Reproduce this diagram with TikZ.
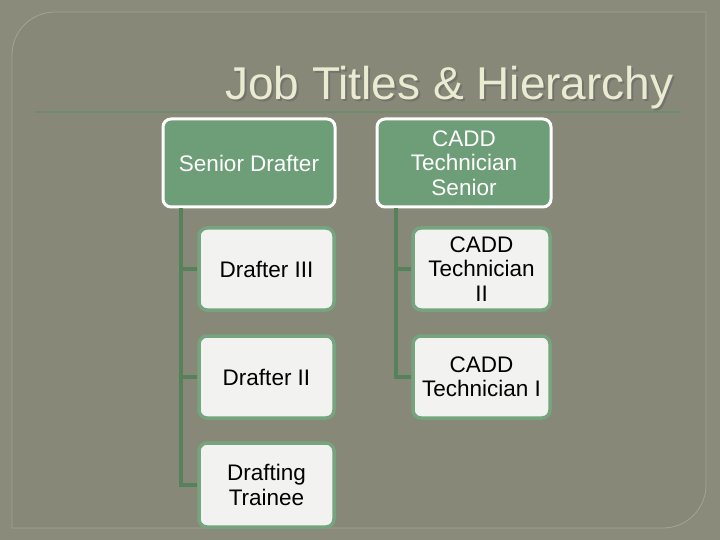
\documentclass[tikz,border=0pt]{standalone}
\usepackage{fontspec}
\setmainfont{Liberation Sans}
\definecolor{bgout}{HTML}{8A8B7B}
\definecolor{bgpanel}{HTML}{878878}
\definecolor{panelline}{HTML}{A3A592}
\definecolor{titlecol}{HTML}{EAEBD0}
\definecolor{rulecol}{HTML}{6E8C6C}
\definecolor{topfill}{HTML}{6E9E78}
\definecolor{subfill}{HTML}{F2F2F0}
\definecolor{subline}{HTML}{76A47E}
\definecolor{conn}{HTML}{55825A}
\tikzset{
  topbox/.style={draw=white, line width=3pt, fill=topfill, rounded corners=8pt,
    text=white, font=\fontsize{22.5}{24.5}\selectfont, align=center, inner sep=0pt},
  subbox/.style={draw=subline, line width=3.5pt, fill=subfill, rounded corners=8pt,
    text=black, font=\fontsize{22.5}{24.5}\selectfont, align=center, inner sep=0pt},
  connline/.style={draw=conn, line width=4.5pt}
}
\begin{document}
\begin{tikzpicture}[x=1pt,y=-1pt]
\useasboundingbox (0,0) rectangle (720,540);
\fill[bgout] (0,0) rectangle (720,540);
\draw[panelline, line width=0.8pt, fill=bgpanel]
  (12,55) arc[start angle=180, end angle=270, radius=43] -- (706,12) -- (706,485)
  arc[start angle=0, end angle=90, radius=43] -- (12,528) -- cycle;
% title
\node[anchor=base east, text=black!60, opacity=0.6, font=\fontsize{46}{50}\selectfont] at (679,102) {Job Titles \& Hierarchy};
\node[anchor=base east, text=titlecol, font=\fontsize{46}{50}\selectfont] (title) at (677,100) {Job Titles \& Hierarchy};
\draw[rulecol, line width=1.2pt] (35,112) -- (680,112);
% top boxes
\node[topbox, minimum width=172pt, minimum height=88pt] (sd) at (249,163) {Senior Drafter};
\node[topbox, minimum width=174pt, minimum height=88pt] (cs) at (464,163) {CADD\\Technician\\Senior};
% sub boxes
\node[subbox, minimum width=135pt, minimum height=82pt] (d3) at (266.5,269) {Drafter III};
\node[subbox, minimum width=135pt, minimum height=82pt] (d2) at (266.5,377) {Drafter II};
\node[subbox, minimum width=135pt, minimum height=84pt] (dt) at (266.5,485) {Drafting\\Trainee};
\node[subbox, minimum width=137pt, minimum height=82pt] (c2) at (481.5,269) {CADD\\Technician\\II};
\node[subbox, minimum width=137pt, minimum height=82pt] (c1) at (481.5,377) {CADD\\Technician I};
% connectors
\coordinate (sdb) at ([xshift=-68pt]sd.south);
\coordinate (csb) at ([xshift=-68pt]cs.south);
\draw[connline] (sdb) |- (dt.west);
\draw[connline] (sdb |- d3.west) -- (d3.west);
\draw[connline] (sdb |- d2.west) -- (d2.west);
\draw[connline] (csb) |- (c1.west);
\draw[connline] (csb |- c2.west) -- (c2.west);
\end{tikzpicture}
\end{document}
